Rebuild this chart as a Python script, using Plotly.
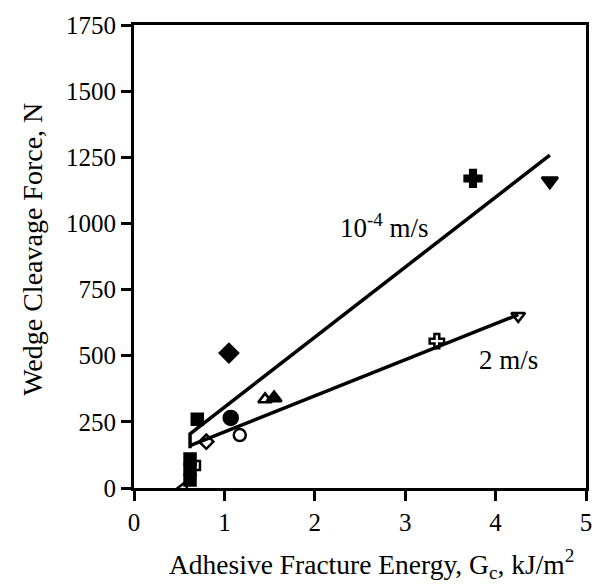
import plotly.graph_objects as go

# Fracture energy (kJ/m^2) and wedge cleavage force (N), one group per symbol
filled_cross_x = [3.75]
filled_cross_y = [1170]
filled_tri_down_x = [4.6]
filled_tri_down_y = [1160]
open_tri_down_x = [4.25]
open_tri_down_y = [650]
open_cross_x = [3.35]
open_cross_y = [555]
filled_diamond_x = [1.05]
filled_diamond_y = [510]
open_diamond_x = [0.8]
open_diamond_y = [175]
open_tri_up_x = [1.45]
open_tri_up_y = [335]
filled_tri_up_x = [1.55]
filled_tri_up_y = [340]
filled_circle_x = [1.07]
filled_circle_y = [265]
open_circle_x = [1.17]
open_circle_y = [200]
filled_square_x = [0.7, 0.62, 0.62, 0.62]
filled_square_y = [260, 30, 70, 110]
open_square_x = [0.68]
open_square_y = [85]
open_tri_left_x = [0.55]
open_tri_left_y = [0]

# Fitted trend lines for the two test rates
slow_fit_x = [0.62, 0.62, 4.6]
slow_fit_y = [150, 205, 1258]
fast_fit_x = [0.62, 4.25]
fast_fit_y = [160, 655]

X_TITLE = "Adhesive Fracture Energy, G<sub>c</sub>, kJ/m<sup>2</sup>"
Y_TITLE = "Wedge Cleavage Force, N"

FONT = "Liberation Serif"
fig = go.Figure()

for xs, ys in [(slow_fit_x, slow_fit_y), (fast_fit_x, fast_fit_y)]:
    fig.add_trace(go.Scatter(x=xs, y=ys, mode="lines",
                             line=dict(color="black", width=3.5),
                             showlegend=False, hoverinfo="skip"))

groups = [
    (filled_cross_x, filled_cross_y, "cross", 14),
    (filled_tri_down_x, filled_tri_down_y, "triangle-down", 14),
    (open_tri_down_x, open_tri_down_y, "triangle-down-open", 12),
    (open_cross_x, open_cross_y, "cross-open", 12),
    (filled_diamond_x, filled_diamond_y, "diamond", 14),
    (open_diamond_x, open_diamond_y, "diamond-open", 11),
    (open_tri_up_x, open_tri_up_y, "triangle-up-open", 12),
    (filled_tri_up_x, filled_tri_up_y, "triangle-up", 13),
    (filled_circle_x, filled_circle_y, "circle", 14),
    (open_circle_x, open_circle_y, "circle-open", 12),
    (filled_square_x, filled_square_y, "square", 11),
    (open_square_x, open_square_y, "square-open", 9),
    (open_tri_left_x, open_tri_left_y, "triangle-left-open", 12),
]
for xs, ys, sym, size in groups:
    fig.add_trace(go.Scatter(
        x=xs, y=ys, mode="markers",
        marker=dict(symbol=sym, size=size, color="black",
                    line=dict(color="black", width=2.5)),
        showlegend=False))

fig.add_annotation(x=2.77, y=990, text="10<sup>-4</sup> m/s", showarrow=False,
                   font=dict(family=FONT, size=27, color="black"))
fig.add_annotation(x=4.14, y=483, text="2 m/s", showarrow=False,
                   font=dict(family=FONT, size=27, color="black"))

# Axis titles placed as paper annotations
fig.add_annotation(xref="paper", yref="paper", x=0.525, y=-0.165,
                   xanchor="center", yanchor="middle", showarrow=False,
                   text=X_TITLE, font=dict(family=FONT, size=27.5, color="black"))
fig.add_annotation(xref="paper", yref="paper", x=-0.225, y=0.515,
                   xanchor="center", yanchor="middle", showarrow=False,
                   textangle=-90,
                   text=Y_TITLE, font=dict(family=FONT, size=28, color="black"))

axis_common = dict(showgrid=False, zeroline=False, showline=True,
                   linecolor="black", linewidth=3, mirror=True,
                   ticks="outside", ticklen=10, tickwidth=2.5,
                   tickcolor="black",
                   tickfont=dict(family=FONT, size=25, color="black"))

fig.update_xaxes(range=[0, 5], dtick=1, tick0=0, **axis_common)
fig.update_yaxes(range=[0, 1750], dtick=250, tick0=0, **axis_common)

fig.update_layout(width=604, height=584,
                  margin=dict(l=134, r=12, t=24, b=96),
                  plot_bgcolor="white", paper_bgcolor="white")

fig.write_html("out.html")
